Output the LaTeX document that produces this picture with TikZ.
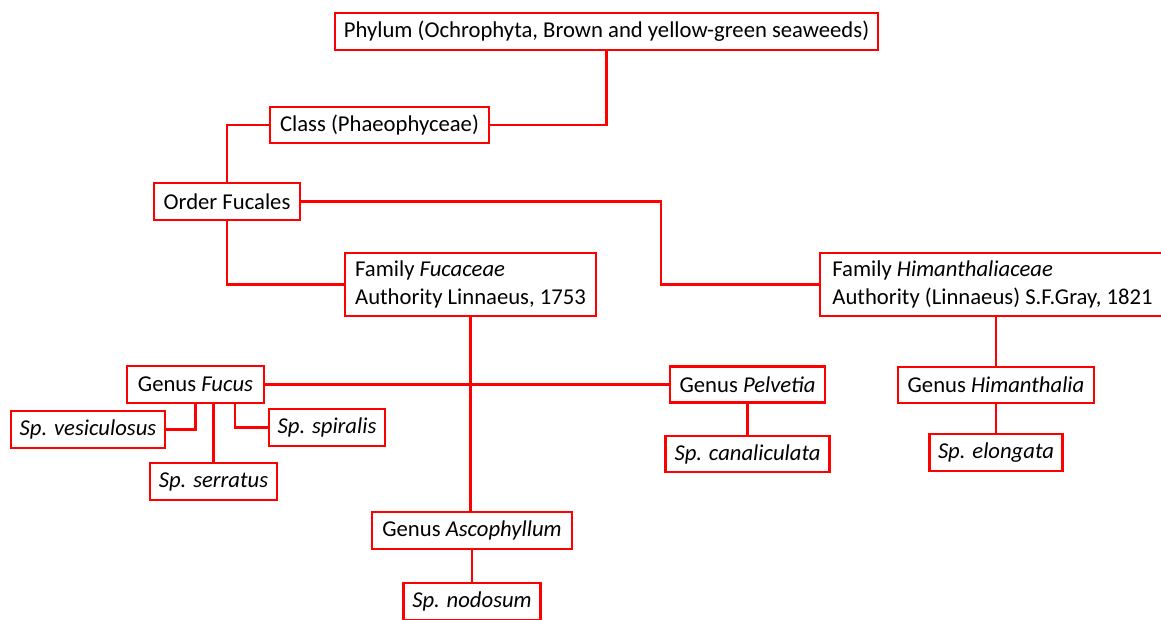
\documentclass[tikz,border=0pt]{standalone}
\usepackage{fontspec}
\setmainfont{Carlito}
\usetikzlibrary{calc}
\begin{document}
\begin{tikzpicture}[x=0.75pt,y=-0.75pt,
  box/.style={draw=red, line width=2.1pt, fill=white, inner sep=0pt, font=\fontsize{17}{20.5}\selectfont, text=black},
  link/.style={draw=red, line width=2.1pt}]
\useasboundingbox (0,0) rectangle (1161,619);
\clip (0,0) rectangle (1161,619);
% nodes
\node[box, minimum width=543*0.75pt, minimum height=37*0.75pt] (phylum) at (606.5,31.5) {Phylum (Ochrophyta, Brown and yellow-green seaweeds)};
\node[box, minimum width=219*0.75pt, minimum height=36*0.75pt] (class) at (379.5,125) {Class (Phaeophyceae)};
\node[box, minimum width=146*0.75pt, minimum height=37*0.75pt] (order) at (227,201.5) {Order Fucales};
\node[box, minimum width=251*0.75pt, minimum height=63*0.75pt, align=left] (fucaceae) at (470.5,284.5) {Family \textit{Fucaceae}\\Authority Linnaeus, 1753};
\node[box, minimum width=345*0.75pt, minimum height=63*0.75pt, align=left] (himan) at (992.5,284.5) {Family \textit{Himanthaliaceae}\\Authority (Linnaeus) S.F.Gray, 1821\hspace{15pt}};
\node[box, minimum width=137*0.75pt, minimum height=37*0.75pt] (fucus) at (195.5,384.5) {Genus \textit{Fucus}};
\node[box, minimum width=154*0.75pt, minimum height=37*0.75pt] (vesic) at (88,429.5) {\textit{Sp. vesiculosus}};
\node[box, minimum width=127*0.75pt, minimum height=37*0.75pt] (serratus) at (213.5,481.5) {\textit{Sp. serratus}};
\node[box, minimum width=116*0.75pt, minimum height=37*0.75pt] (spiralis) at (327,427.5) {\textit{Sp. spiralis}};
\node[box, minimum width=155*0.75pt, minimum height=36*0.75pt] (pelvetia) at (747.5,384.5) {Genus \textit{Pelvetia}};
\node[box, minimum width=164*0.75pt, minimum height=36*0.75pt] (canal) at (747.5,454) {\textit{Sp. canaliculata}};
\node[box, minimum width=196*0.75pt, minimum height=36*0.75pt] (himgen) at (996,385) {Genus \textit{Himanthalia}};
\node[box, minimum width=133*0.75pt, minimum height=37*0.75pt] (elong) at (996,452.5) {\textit{Sp. elongata}};
\node[box, minimum width=200*0.75pt, minimum height=37*0.75pt] (asco) at (472,530.5) {Genus \textit{Ascophyllum}};
\node[box, minimum width=137*0.75pt, minimum height=37*0.75pt] (nodosum) at (472,601.5) {\textit{Sp. nodosum}};
\coordinate (oj) at (661,250);
% connectors
\draw[link] (phylum.south) |- (class.east);
\draw[link] (class.west) -| (order.north);
\draw[link] (order.east) -| (oj) |- (himan.west);
\draw[link] (order.south) |- (fucaceae.west);
\draw[link] (fucaceae.south) -- (fucaceae.south |- asco.north);
\draw[link] (fucus.east) -- (pelvetia.west);
\draw[link] (fucus.south) |- (vesic.east);
\draw[link] (fucus.south -| serratus.north) -- (serratus.north);
\draw[link] ($(fucus.south)+(39.5,0)$) |- (spiralis.west);
\draw[link] (pelvetia.south) -- (canal.north);
\draw[link] (himgen.north |- himan.south) -- (himgen.north);
\draw[link] (himgen.south) -- (elong.north);
\draw[link] (asco.south) -- (nodosum.north);
\end{tikzpicture}
\end{document}
